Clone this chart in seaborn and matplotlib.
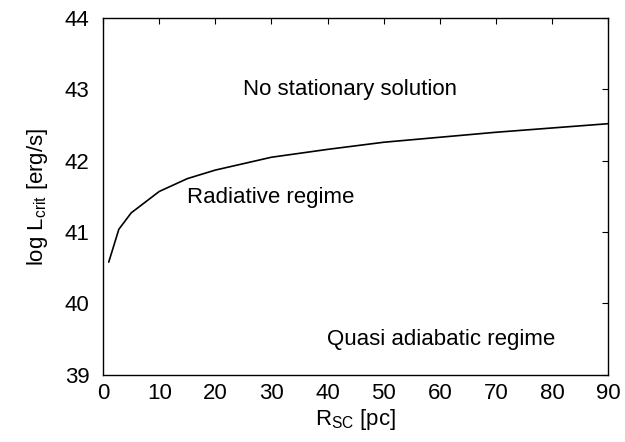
import matplotlib
matplotlib.use("Agg")
import pandas as pd
import matplotlib.pyplot as plt
import seaborn as sns

# values
r_sc = [1.0, 2.8, 5.0, 10, 15, 20, 30, 40, 50, 60, 70, 80, 90]
log_lcrit = [40.58, 41.04, 41.27, 41.57, 41.75, 41.87, 42.05, 42.16, 42.26,
             42.33, 42.40, 42.46, 42.52]

xticks = [0, 10, 20, 30, 40, 50, 60, 70, 80, 90]
yticks = [39, 40, 41, 42, 43, 44]

df = pd.DataFrame({'R_SC': r_sc, 'logL': log_lcrit})

sns.set_style('white')
plt.rcParams['font.family'] = ['Liberation Sans', 'DejaVu Sans']
plt.rcParams['mathtext.fontset'] = 'custom'
plt.rcParams['mathtext.rm'] = 'Liberation Sans'
plt.rcParams['mathtext.it'] = 'Liberation Sans'
plt.rcParams['text.color'] = 'black'
plt.rcParams['axes.labelcolor'] = 'black'

fs = 16

fig = plt.figure(figsize=(6.25, 4.42), dpi=100)
ax = fig.add_axes([0.165, 0.152, 0.808, 0.807])

sns.lineplot(data=df, x='R_SC', y='logL', color='black', linewidth=1.2, ax=ax)

ax.set_xlim(0, 90)
ax.set_ylim(39, 44)
ax.set_xticks(xticks)
ax.set_yticks(yticks)
ax.tick_params(direction='in', length=4, width=0.8, labelsize=fs,
               top=True, right=True, colors='black')
ax.tick_params(axis='y', pad=10)
ax.tick_params(axis='x', pad=6)
for s in ax.spines.values():
    s.set_color('black')
    s.set_linewidth(1.0)

ax.set_xlabel(r'R$_\mathrm{SC}$ [pc]', fontsize=fs, labelpad=2)
ax.set_ylabel(r'log L$_\mathrm{crit}$ [erg/s]', fontsize=fs, labelpad=10)

ax.text(44, 43.0, 'No stationary solution', fontsize=fs, ha='center', va='center')
ax.text(15, 41.48, 'Radiative regime', fontsize=fs, ha='left', va='center')
ax.text(60.2, 39.49, 'Quasi adiabatic regime', fontsize=fs, ha='center', va='center')

fig.savefig('out.png', dpi=100)
